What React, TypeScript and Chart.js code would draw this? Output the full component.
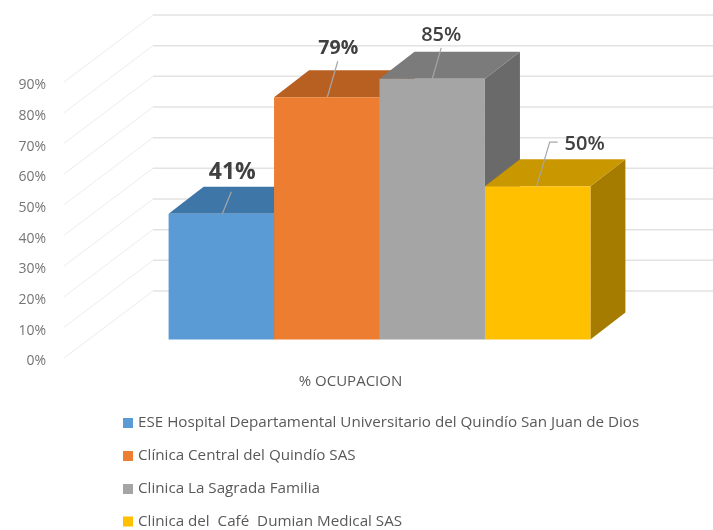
import React, { useEffect, useRef } from "react";
import { Chart, registerables } from "chart.js";

Chart.register(...registerables);

const categories = ["% OCUPACION"];
const seriesNames = [
  "ESE Hospital Departamental Universitario del Quindío San Juan de Dios",
  "Clínica Central del Quindío SAS",
  "Clinica La Sagrada Familia",
  "Clinica del  Café  Dumian Medical SAS",
];
const blueValues = [41];
const orangeValues = [79];
const grayValues = [85];
const yellowValues = [50];
const seriesValues = [blueValues, orangeValues, grayValues, yellowValues];
const yTickStep = 10;
const yMax = 90;

const frontColors = ["#5b9bd5", "#ed7d31", "#a5a5a5", "#ffc000"];
const topColors = ["#3f76a8", "#b85f22", "#7b7b7b", "#c99700"];
const sideColors = ["#35628c", "#9a4f1c", "#6a6a6a", "#a67c00"];

const FONT = '"Open Sans", sans-serif';
const WALL_DX = 89;
const WALL_DY = 67;
const BAR_INSET_DX = 25;
const BAR_INSET_DY = 18.5;
const BAR_DX = 35;
const BAR_DY = 27;

// label placement relative to each bar's front-top centre: leader start, bends, label centre
const labelStyles = [
  { lead: [[1, 0], [10, -22]], text: [11, -41], weight: "700", size: 23 },
  { lead: [[0.5, 0], [11, -36]], text: [11.5, -49], weight: "700", size: 19.5 },
  { lead: [[0, 0], [9, -31]], text: [9, -44], weight: "600", size: 20 },
  { lead: [[-1, 0], [12, -44], [20, -44]], text: [47, -42], weight: "600", size: 20 },
];

const poly = (ctx: CanvasRenderingContext2D, pts: number[][], fill: string) => {
  ctx.beginPath();
  pts.forEach(([x, y], i) => (i ? ctx.lineTo(x, y) : ctx.moveTo(x, y)));
  ctx.closePath();
  ctx.fillStyle = fill;
  ctx.fill();
};

const scene3d = {
  id: "scene3d",
  beforeDatasetsDraw(chart: any) {
    const { ctx, chartArea, scales, width } = chart;
    const yScale = scales.y;
    ctx.save();
    yScale.ticks.forEach((t: any) => {
      const y = yScale.getPixelForValue(t.value);
      ctx.beginPath();
      ctx.moveTo(chartArea.left, y);
      ctx.lineTo(chartArea.left + WALL_DX, y - WALL_DY);
      ctx.strokeStyle = "#ececec";
      ctx.lineWidth = 1;
      ctx.stroke();
      ctx.beginPath();
      ctx.moveTo(chartArea.left + WALL_DX, y - WALL_DY);
      ctx.lineTo(width, y - WALL_DY);
      ctx.strokeStyle = "#e3e3e3";
      ctx.lineWidth = 1.5;
      ctx.stroke();
    });
    ctx.restore();

    ctx.save();
    ctx.translate(BAR_INSET_DX, -BAR_INSET_DY);
    seriesValues.forEach((_, i) => {
      const bar = chart.getDatasetMeta(i).data[0];
      const l = bar.x - bar.width / 2;
      const r = bar.x + bar.width / 2;
      const t = bar.y;
      const b = bar.base;
      poly(ctx, [[r, t], [r + BAR_DX, t - BAR_DY], [r + BAR_DX, b - BAR_DY], [r, b]], sideColors[i]);
      poly(ctx, [[l, t], [r, t], [r + BAR_DX, t - BAR_DY], [l + BAR_DX, t - BAR_DY]], topColors[i]);
    });
  },
  afterDatasetsDraw(chart: any) {
    const { ctx } = chart;
    // leader lines and value labels, still in the bars' translated plane
    seriesValues.forEach((vals, i) => {
      const bar = chart.getDatasetMeta(i).data[0];
      const s = labelStyles[i];
      ctx.beginPath();
      s.lead.forEach(([dx, dy], k) => {
        if (k) ctx.lineTo(bar.x + dx, bar.y + dy);
        else ctx.moveTo(bar.x + dx, bar.y + dy);
      });
      ctx.strokeStyle = "#a6a6a6";
      ctx.lineWidth = 1.2;
      ctx.stroke();
      ctx.font = `${s.weight} ${s.size}px ${FONT}`;
      ctx.fillStyle = "#404040";
      ctx.textAlign = "center";
      ctx.textBaseline = "middle";
      ctx.fillText(`${vals[0]}%`, bar.x + s.text[0], bar.y + s.text[1]);
    });
    ctx.restore();
  },
  afterDraw(chart: any) {
    const { ctx } = chart;
    const rowTops = [423, 456, 489, 521.5];
    ctx.save();
    ctx.font = `15.2px ${FONT}`;
    ctx.textAlign = "left";
    ctx.textBaseline = "middle";
    seriesNames.forEach((name, i) => {
      const y = rowTops[i];
      ctx.fillStyle = frontColors[i];
      ctx.fillRect(123, y - 5, 10, 10);
      ctx.fillStyle = "#595959";
      ctx.fillText(name, 138, y);
    });
    ctx.restore();
  },
};

export default function App() {
  const ref = useRef<HTMLCanvasElement>(null);
  useEffect(() => {
    const chart = new Chart(ref.current as HTMLCanvasElement, {
      type: "bar",
      data: {
        labels: categories,
        datasets: seriesNames.map((name, i) => ({
          label: name,
          data: seriesValues[i],
          backgroundColor: frontColors[i],
          borderWidth: 0,
          barPercentage: 1,
          categoryPercentage: 0.726,
          clip: false as any,
        })),
      },
      options: {
        animation: false,
        responsive: false,
        layout: { padding: { top: 82, right: 68, left: 0, bottom: 0 } },
        plugins: { legend: { display: false }, tooltip: { enabled: false }, title: { display: false } },
        scales: {
          x: {
            grid: { display: false, drawTicks: false },
            border: { display: false },
            afterFit: (s: any) => { s.height = 172; },
            ticks: { color: "#595959", padding: 15, labelOffset: -4, font: { family: FONT, size: 15 } },
          },
          y: {
            min: 0,
            max: yMax,
            grid: { display: false, drawTicks: false },
            border: { display: false },
            afterFit: (s: any) => { s.width = 64; },
            ticks: {
              stepSize: yTickStep,
              padding: 18,
              labelOffset: 3.5,
              color: "#757575",
              font: { family: FONT, size: 14 },
              callback: (v: any) => `${v}%`,
            },
          },
        },
      },
      plugins: [scene3d],
    });
    return () => chart.destroy();
  }, []);
  return (
    <div style={{ position: "absolute", left: 0, top: 0, width: 713, height: 530, background: "#fff" }}>
      <canvas ref={ref} width={713} height={530} style={{ display: "block" }} />
    </div>
  );
}
